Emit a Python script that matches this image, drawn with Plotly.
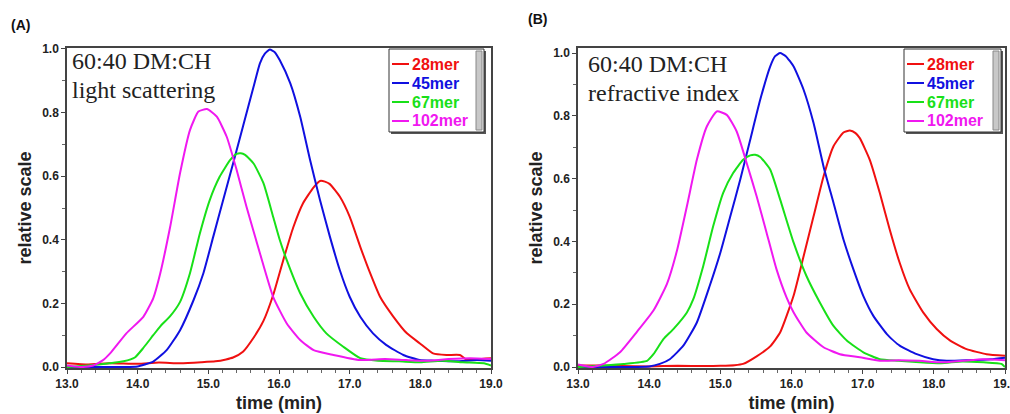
import plotly.graph_objects as go

W, H = 1010, 414

series_names = ["28mer", "45mer", "67mer", "102mer"]
series_colors = ["#f01010", "#1010e0", "#18e018", "#f018f0"]

x_tick_vals = [13, 14, 15, 16, 17, 18, 19]
x_tick_text = ["13.0", "14.0", "15.0", "16.0", "17.0", "18.0", "19.0"]
y_tick_vals = [0.0, 0.2, 0.4, 0.6, 0.8, 1.0]
y_tick_text = ["0.0", "0.2", "0.4", "0.6", "0.8", "1.0"]

# ---------------- Panel A: light scattering ----------------
red_A_t = [13.0, 13.3, 13.6, 14.0, 14.3, 14.6, 14.9, 15.1, 15.25, 15.35, 15.49, 15.64, 15.78, 15.92, 16.06,
           16.20, 16.34, 16.49, 16.58, 16.65, 16.72, 16.86, 17.0, 17.15, 17.29, 17.43, 17.62, 17.81, 17.99,
           18.18, 18.37, 18.56, 18.65, 18.8, 19.0]
red_A_v = [0.012, 0.008, 0.012, 0.010, 0.014, 0.012, 0.015, 0.018, 0.024, 0.030, 0.048, 0.092, 0.145, 0.228, 0.336,
           0.438, 0.515, 0.565, 0.585, 0.583, 0.575, 0.536, 0.473, 0.378, 0.295, 0.221, 0.158, 0.106, 0.075,
           0.043, 0.038, 0.038, 0.024, 0.025, 0.028]

blue_A_t = [13.0, 13.5, 13.8, 14.0, 14.1, 14.22, 14.41, 14.6, 14.79, 14.93, 15.07, 15.21, 15.35, 15.49, 15.64,
            15.73, 15.80, 15.87, 15.94, 16.01, 16.16, 16.30, 16.44, 16.58, 16.72, 16.86, 17.0, 17.15, 17.33,
            17.52, 17.76, 17.99, 18.2, 18.5, 18.8, 19.0]
blue_A_v = [0.0, 0.0, 0.0, 0.002, 0.008, 0.017, 0.053, 0.116, 0.21, 0.295, 0.41, 0.525, 0.64, 0.756, 0.881,
            0.955, 0.985, 0.998, 0.99, 0.965, 0.892, 0.787, 0.651, 0.525, 0.41, 0.305, 0.221, 0.158, 0.106,
            0.069, 0.038, 0.022, 0.020, 0.018, 0.022, 0.020]

green_A_t = [13.0, 13.3, 13.6, 13.8, 13.96, 14.08, 14.22, 14.32, 14.46, 14.6, 14.74, 14.88, 15.02, 15.16, 15.31,
             15.40, 15.46, 15.52, 15.64, 15.78, 15.92, 16.01, 16.11, 16.30, 16.49, 16.67, 16.91, 17.15, 17.4,
             17.7, 18.0, 18.3, 18.6, 18.9, 19.0]
green_A_v = [0.0, 0.005, 0.012, 0.018, 0.03, 0.06, 0.10, 0.128, 0.16, 0.205, 0.295, 0.42, 0.525, 0.598, 0.651,
             0.67, 0.672, 0.667, 0.64, 0.578, 0.47, 0.40, 0.336, 0.232, 0.158, 0.106, 0.064, 0.028, 0.02,
             0.018, 0.015, 0.02, 0.015, 0.012, 0.005]

mag_A_t = [13.0, 13.2, 13.37, 13.5, 13.61, 13.84, 14.08, 14.22, 14.32, 14.46, 14.6, 14.74, 14.86, 14.98, 15.12,
           15.26, 15.40, 15.54, 15.73, 15.92, 16.11, 16.30, 16.49, 16.77, 17.15, 17.5, 17.8, 18.1, 18.4, 18.7, 19.0]
mag_A_v = [0.005, 0.0, 0.005, 0.02, 0.043, 0.106, 0.158, 0.216, 0.295, 0.441, 0.61, 0.745, 0.803, 0.811, 0.787,
           0.724, 0.62, 0.504, 0.358, 0.219, 0.137, 0.085, 0.053, 0.038, 0.022, 0.025, 0.022, 0.02, 0.025, 0.028, 0.025]

# ---------------- Panel B: refractive index ----------------
red_B_t = [13.0, 13.3, 13.6, 14.0, 14.4, 14.8, 15.0, 15.2, 15.32, 15.51, 15.70, 15.84, 16.03, 16.17,
           16.31, 16.45, 16.59, 16.73, 16.82, 16.90, 16.96, 17.10, 17.24, 17.38, 17.52, 17.66, 17.85, 18.04,
           18.23, 18.46, 18.74, 19.0]
red_B_v = [0.005, 0.005, 0.003, 0.002, 0.004, 0.003, 0.004, 0.006, 0.01, 0.034, 0.066, 0.11, 0.228, 0.353,
           0.48, 0.607, 0.703, 0.747, 0.753, 0.745, 0.729, 0.66, 0.555, 0.438, 0.332, 0.248, 0.174, 0.121,
           0.084, 0.057, 0.041, 0.036]

blue_B_t = [13.0, 13.5, 14.0, 14.15, 14.29, 14.48, 14.67, 14.85, 15.0, 15.14, 15.28, 15.42, 15.56, 15.70, 15.77,
            15.84, 15.92, 16.03, 16.17, 16.31, 16.45, 16.59, 16.73, 16.87, 17.01, 17.15, 17.34, 17.52, 17.76,
            17.99, 18.18, 18.5, 18.8, 19.0]
blue_B_v = [0.0, 0.0, 0.002, 0.01, 0.025, 0.068, 0.142, 0.258, 0.364, 0.48, 0.597, 0.724, 0.851, 0.957, 0.99,
            1.0, 0.99, 0.957, 0.883, 0.777, 0.639, 0.523, 0.406, 0.311, 0.226, 0.163, 0.105, 0.068, 0.041,
            0.025, 0.02, 0.022, 0.025, 0.03]

green_B_t = [13.0, 13.36, 13.64, 13.97, 14.06, 14.20, 14.34, 14.53, 14.62, 14.76, 14.90, 15.04, 15.18, 15.32,
             15.42, 15.49, 15.56, 15.70, 15.84, 16.03, 16.21, 16.40, 16.59, 16.78, 17.01, 17.24, 17.5, 17.8,
             18.1, 18.4, 18.7, 18.95, 19.0]
green_B_v = [0.0, 0.005, 0.01, 0.02, 0.041, 0.089, 0.121, 0.174, 0.216, 0.322, 0.449, 0.555, 0.618, 0.66,
             0.674, 0.676, 0.669, 0.629, 0.534, 0.396, 0.29, 0.205, 0.131, 0.084, 0.047, 0.025, 0.02, 0.015,
             0.012, 0.018, 0.015, 0.01, 0.0]

mag_B_t = [13.0, 13.2, 13.36, 13.59, 13.82, 14.06, 14.25, 14.39, 14.53, 14.67, 14.81, 14.95, 15.09, 15.23, 15.37,
           15.51, 15.65, 15.79, 15.93, 16.03, 16.21, 16.45, 16.68, 16.96, 17.24, 17.5, 17.8, 18.1, 18.4, 18.7, 19.0]
mag_B_v = [0.008, 0.0, 0.01, 0.047, 0.11, 0.18, 0.265, 0.37, 0.512, 0.66, 0.766, 0.814, 0.803, 0.75, 0.65,
           0.544, 0.428, 0.311, 0.222, 0.174, 0.11, 0.063, 0.041, 0.031, 0.02, 0.022, 0.02, 0.015, 0.02, 0.025, 0.022]

panel_labels = ["(A)", "(B)"]
panel_titles = [["60:40 DM:CH", "light scattering"], ["60:40 DM:CH", "refractive index"]]
x_title = "time (min)"
y_title = "relative scale"

panels = [
    [(red_A_t, red_A_v), (blue_A_t, blue_A_v), (green_A_t, green_A_v), (mag_A_t, mag_A_v)],
    [(red_B_t, red_B_v), (blue_B_t, blue_B_v), (green_B_t, green_B_v), (mag_B_t, mag_B_v)],
]


def px(x):
    return x / W


def py(y):
    return 1 - y / H


fig = go.Figure()

axis_ids = [("x", "y"), ("x2", "y2")]
for p, data in enumerate(panels):
    xa, ya = axis_ids[p]
    for (t, v), name, col in zip(data, series_names, series_colors):
        fig.add_trace(go.Scatter(x=t, y=v, mode="lines", name=name, xaxis=xa, yaxis=ya,
                                 line=dict(color=col, width=2, shape="spline", smoothing=0.5),
                                 showlegend=False, hoverinfo="skip"))

tick_font = dict(family="Liberation Sans", size=12, color="#222", weight="bold")
title_font = dict(family="Liberation Sans", size=18, color="#222", weight="bold")

common_x = dict(range=[13, 19], tickvals=x_tick_vals, ticktext=x_tick_text, ticks="outside", ticklen=4,
                tickwidth=1, tickcolor="#444", showline=True, linecolor="#444", linewidth=1.5, mirror=True,
                showgrid=False, zeroline=False, tickfont=tick_font, automargin=False,
                ticklabeloverflow="allow",
                minor=dict(dtick=0.2, ticks="outside", ticklen=3, tickcolor="#666", showgrid=False),
                title=dict(text=x_title, font=title_font, standoff=6))
common_y = dict(tickvals=y_tick_vals, ticktext=y_tick_text, ticks="outside", ticklen=4,
                tickwidth=1, tickcolor="#444", showline=True, linecolor="#444", linewidth=1.5, mirror=True,
                showgrid=False, zeroline=False, tickfont=tick_font, automargin=False,
                minor=dict(dtick=0.1, ticks="outside", ticklen=3, tickcolor="#666", showgrid=False),
                title=dict(text=y_title, font=title_font, standoff=6))

ydom = [py(368), py(48)]
fig.update_layout(
    width=W, height=H, margin=dict(l=0, r=0, t=0, b=0),
    paper_bgcolor="white", plot_bgcolor="white", showlegend=False,
    xaxis=dict(domain=[px(67), px(491)], anchor="y", **common_x),
    yaxis=dict(domain=ydom, anchor="x", range=[-0.003, 1.003], **common_y),
    xaxis2=dict(domain=[px(578), px(1005)], anchor="y2", **common_x),
    yaxis2=dict(domain=ydom, anchor="x2", range=[-0.003, 1.016], **common_y),
)

annotations = []
shapes = []

# panel labels
for lab, (lx, ly) in zip(panel_labels, [(20, 25), (537, 19)]):
    annotations.append(dict(text=lab, x=px(lx), y=py(ly), xref="paper", yref="paper", showarrow=False,
                            xanchor="center", yanchor="middle",
                            font=dict(family="Liberation Sans", size=14, color="#111", weight="bold")))

# in-plot titles
for (l1, l2), (tx, ty1, ty2) in zip(panel_titles, [(70, 61, 90), (586, 64, 93)]):
    for txt, ty in [(l1, ty1), (l2, ty2)]:
        annotations.append(dict(text=txt, x=px(tx), y=py(ty), xref="paper", yref="paper", showarrow=False,
                                xanchor="left", yanchor="middle",
                                font=dict(family="Liberation Serif", size=24, color="#222")))

# legend boxes (mimic original instrument-software legend with scrollbar)
for (bx0, by0, bx1, by1) in [(389, 49, 484, 132), (904, 49, 1001, 132)]:
    shapes.append(dict(type="rect", xref="paper", yref="paper", x0=px(bx0 + 2), x1=px(bx1 + 2),
                       y0=py(by1 + 2), y1=py(by0 + 2), fillcolor="#555", line=dict(width=0)))
    shapes.append(dict(type="rect", xref="paper", yref="paper", x0=px(bx0), x1=px(bx1),
                       y0=py(by1), y1=py(by0), fillcolor="white", line=dict(color="#333", width=1)))
    shapes.append(dict(type="rect", xref="paper", yref="paper", x0=px(bx1 - 8), x1=px(bx1 - 2),
                       y0=py(by1 - 2), y1=py(by0 + 2), fillcolor="#c8c8c8", line=dict(color="#888", width=1)))
    lx0 = bx0 + 3
    for i, (name, col) in enumerate(zip(series_names, series_colors)):
        ey = 64 + i * 19
        shapes.append(dict(type="line", xref="paper", yref="paper", x0=px(lx0), x1=px(lx0 + 17),
                           y0=py(ey), y1=py(ey), line=dict(color=col, width=2)))
        annotations.append(dict(text=name, x=px(lx0 + 18), y=py(ey), xref="paper", yref="paper",
                                showarrow=False, xanchor="left", yanchor="middle",
                                font=dict(family="Liberation Sans", size=16, color=col, weight="bold")))

fig.update_layout(annotations=annotations, shapes=shapes)
fig.write_html("out.html")
